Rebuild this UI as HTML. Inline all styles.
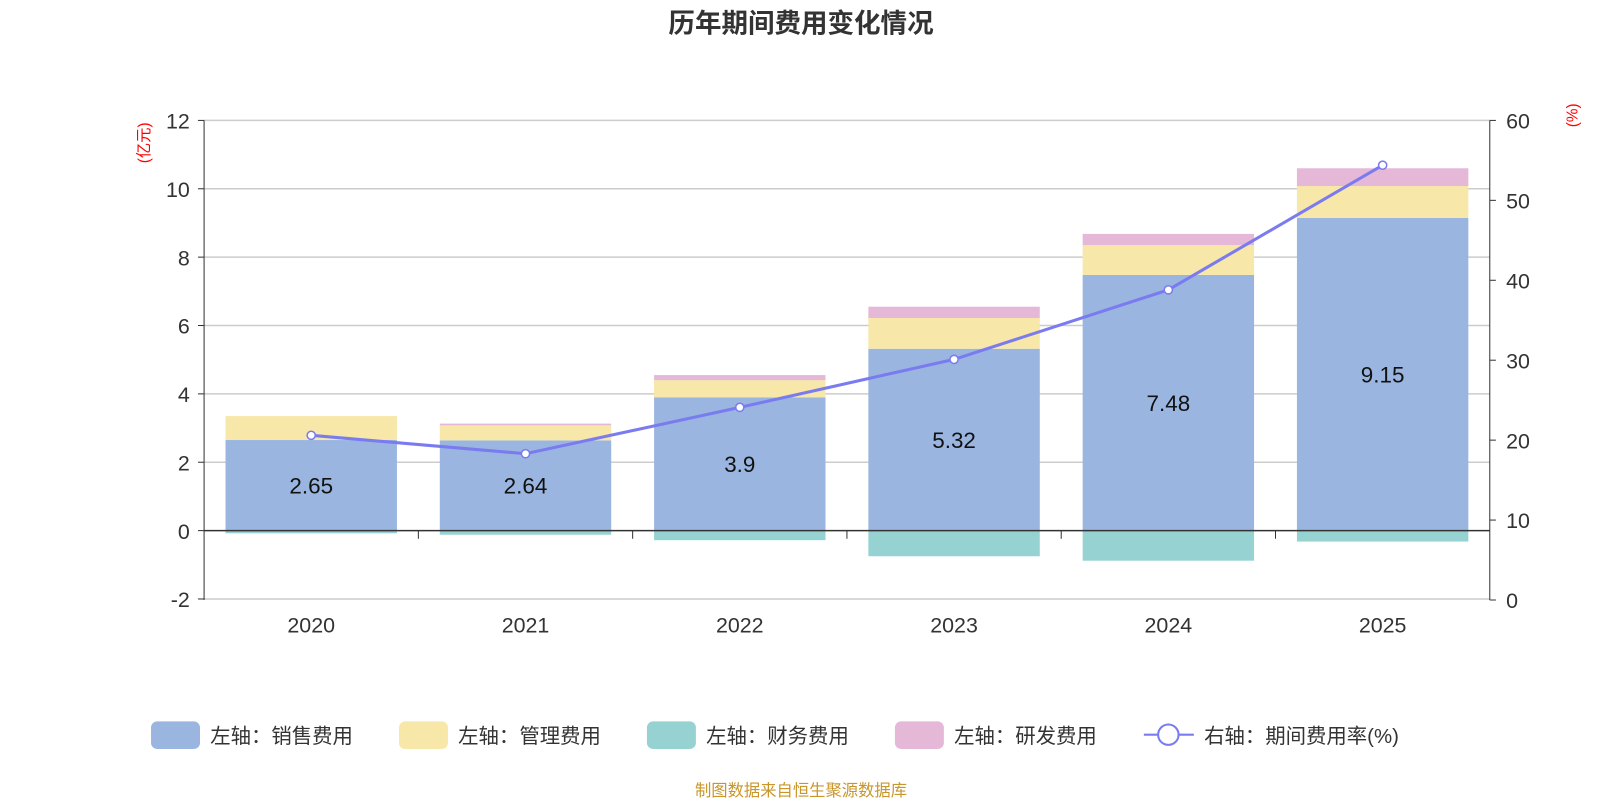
<!DOCTYPE html>
<html><head><meta charset="utf-8"><style>
body{margin:0;background:#fff;font-family:"Liberation Sans","Noto Sans CJK SC",sans-serif}
</style></head><body>
<svg width="1600" height="800" xmlns="http://www.w3.org/2000/svg" font-family="Liberation Sans, Noto Sans CJK SC, sans-serif">
<g transform="scale(1.0204)">
<text x="785" y="32" text-anchor="middle" font-size="26" font-weight="bold" fill="#333">历年期间费用变化情况</text>
<text transform="translate(146,140) rotate(-90)" text-anchor="middle" font-size="15" fill="#f00">(亿元)</text>
<text transform="translate(1546,113) rotate(-90)" text-anchor="middle" font-size="15" fill="#f00">(%)</text>
<g id="grid"></g><g id="bars"></g><g id="line"></g><g id="axes"></g>
<g id="legend" font-size="20" fill="#333"></g>
<text x="785" y="780" text-anchor="middle" font-size="16" fill="#c8962a">制图数据来自恒生聚源数据库</text>
</g>
</svg>
<script>
const years=['2020','2021','2022','2023','2024','2025'];
const sales=[2.65,2.64,3.9,5.32,7.48,9.15];
const mgmt=[0.70,0.44,0.50,0.90,0.87,0.93];
const fin=[-0.08,-0.12,-0.28,-0.75,-0.88,-0.32];
const rd=[0.0,0.05,0.15,0.33,0.33,0.52];
const rate=[20.6,18.3,24.1,30.1,38.8,54.4];
const leftTicks=[-2,0,2,4,6,8,10,12];
const rightTicks=[0,10,20,30,40,50,60];
const NS='http://www.w3.org/2000/svg';
const X0=200,X1=1460,band=(X1-X0)/years.length;
const yL=v=>520-v*33.5;
const yR=v=>588-v*(470/60);
const xc=i=>X0+band*(i+0.5);
function mk(p,t,a){const e=document.createElementNS(NS,t);for(const k in a)e.setAttribute(k,a[k]);document.getElementById(p).appendChild(e);return e;}
leftTicks.forEach(t=>{
 if(t!==0){const g=mk('grid','line',{x1:X0,x2:X1,y1:yL(t),y2:yL(t),stroke:'#ccc','stroke-width':1.5});
 
 }
 const tx=mk('axes','text',{x:186,y:yL(t)+8,'text-anchor':'end','font-size':21,fill:'#333'});tx.textContent=t;
 
 
 mk('axes','line',{x1:194,x2:200,y1:yL(t),y2:yL(t),stroke:'#333'});
});
rightTicks.forEach(t=>{
 const tx=mk('axes','text',{x:1476,y:yR(t)+8,'font-size':21,fill:'#333'});tx.textContent=t;
 
 
 mk('axes','line',{x1:1460,x2:1466,y1:yR(t),y2:yR(t),stroke:'#333'});
});
mk('axes','line',{x1:200,x2:200,y1:118,y2:588,stroke:'#333'});
mk('axes','line',{x1:1460,x2:1460,y1:118,y2:588,stroke:'#333'});
mk('axes','line',{x1:200,x2:1460,y1:520,y2:520,stroke:'#333','stroke-width':1.5});
const bw=band*0.8;
function bar(i,b,v,col,name){const y1=yL(b),y2=yL(b+v);const r=mk('bars','rect',{x:xc(i)-bw/2,y:Math.min(y1,y2),width:bw,height:Math.abs(y1-y2),fill:col});
 
 }
years.forEach((y,i)=>{
 bar(i,0,sales[i],'#9ab6e0','bar-sales-'+y);
 bar(i,sales[i],mgmt[i],'#f7e7a8','bar-mgmt-'+y);
 bar(i,sales[i]+mgmt[i],rd[i],'#e6b8d8','bar-rd-'+y);
 bar(i,0,fin[i],'#96d2d2','bar-fin-'+y);
 const t=mk('bars','text',{x:xc(i),y:yL(sales[i]/2)+8,'text-anchor':'middle','font-size':22,fill:'#111'});t.textContent=sales[i];
 
 
 const xl=mk('axes','text',{x:xc(i),y:620,'text-anchor':'middle','font-size':21,fill:'#333'});xl.textContent=y;
 
 
 if(i>0)mk('axes','line',{x1:X0+band*i,x2:X0+band*i,y1:520,y2:528,stroke:'#333'});
});
const pl=mk('line','polyline',{points:rate.map((v,i)=>xc(i)+','+yR(v)).join(' '),fill:'none',stroke:'#7b7bf0','stroke-width':3});


rate.forEach((v,i)=>{const c=mk('line','circle',{cx:xc(i),cy:yR(v),r:4,fill:'#fff',stroke:'#7b7bf0','stroke-width':1.5});
 
 });
const leg=[['左轴：销售费用','#9ab6e0',148],['左轴：管理费用','#f7e7a8',391],['左轴：财务费用','#96d2d2',634],['左轴：研发费用','#e6b8d8',877]];
leg.forEach(l=>{const r=mk('legend','rect',{x:l[2],y:707,width:48,height:27,rx:6,fill:l[1]});
 
 
 const t=mk('legend','text',{x:l[2]+58,y:728});t.textContent=l[0];
 
 });
mk('legend','line',{x1:1121,x2:1170,y1:720,y2:720,stroke:'#7b7bf0','stroke-width':2});
mk('legend','circle',{cx:1145,cy:720,r:10,fill:'#fff',stroke:'#7b7bf0','stroke-width':2});
const lt=mk('legend','text',{x:1180,y:728});lt.textContent='右轴：期间费用率(%)';


</script>
</body></html>
